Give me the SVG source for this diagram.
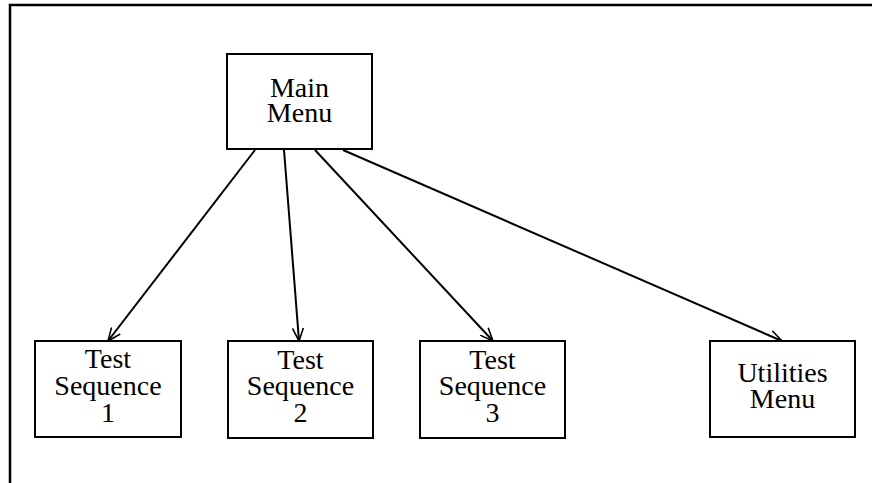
<svg xmlns="http://www.w3.org/2000/svg" width="872" height="483" viewBox="0 0 872 483">
<style>
.box{fill:#fff;stroke:#000;stroke-width:2}
.lbl{font-family:"Liberation Serif","Times New Roman",serif;font-size:28px;text-anchor:middle;fill:#000}
.edge{stroke:#000;stroke-width:2;fill:none;marker-end:url(#arr)}
</style>
<defs>
<marker id="arr" viewBox="0 0 14 12" refX="13" refY="6" markerWidth="14" markerHeight="12" markerUnits="userSpaceOnUse" orient="auto">
<path d="M0,0.5 L13,6 L0,11.5" fill="none" stroke="#000" stroke-width="1.6"/>
</marker>
</defs>
<rect width="872" height="483" fill="#fff"/>
<path d="M10,483 V5 H872" fill="none" stroke="#000" stroke-width="2.5"/>
<g id="connectors">
<line class="edge" x1="255" y1="150" x2="108" y2="341"/>
<line class="edge" x1="284" y1="150" x2="299" y2="341"/>
<line class="edge" x1="315" y1="150" x2="493" y2="341"/>
<line class="edge" x1="343" y1="150" x2="782" y2="341"/>
</g>
<g id="main-menu">
<rect class="box" x="227" y="54" width="145" height="95"/>
<text class="lbl" x="299.5" y="97">Main</text>
<text class="lbl" x="299.5" y="122">Menu</text>
</g>
<g id="test-sequence-1">
<rect class="box" x="35" y="341" width="146" height="96"/>
<text class="lbl" x="108" y="368">Test</text>
<text class="lbl" x="108" y="395">Sequence</text>
<text class="lbl" x="108" y="422">1</text>
</g>
<g id="test-sequence-2">
<rect class="box" x="228" y="341" width="145" height="97"/>
<text class="lbl" x="300.5" y="369">Test</text>
<text class="lbl" x="300.5" y="395">Sequence</text>
<text class="lbl" x="300.5" y="422">2</text>
</g>
<g id="test-sequence-3">
<rect class="box" x="420" y="341" width="145" height="97"/>
<text class="lbl" x="492.5" y="369">Test</text>
<text class="lbl" x="492.5" y="395">Sequence</text>
<text class="lbl" x="492.5" y="422">3</text>
</g>
<g id="utilities-menu">
<rect class="box" x="710" y="341" width="145" height="96"/>
<text class="lbl" x="782.5" y="382">Utilities</text>
<text class="lbl" x="782.5" y="408">Menu</text>
</g>
</svg>
